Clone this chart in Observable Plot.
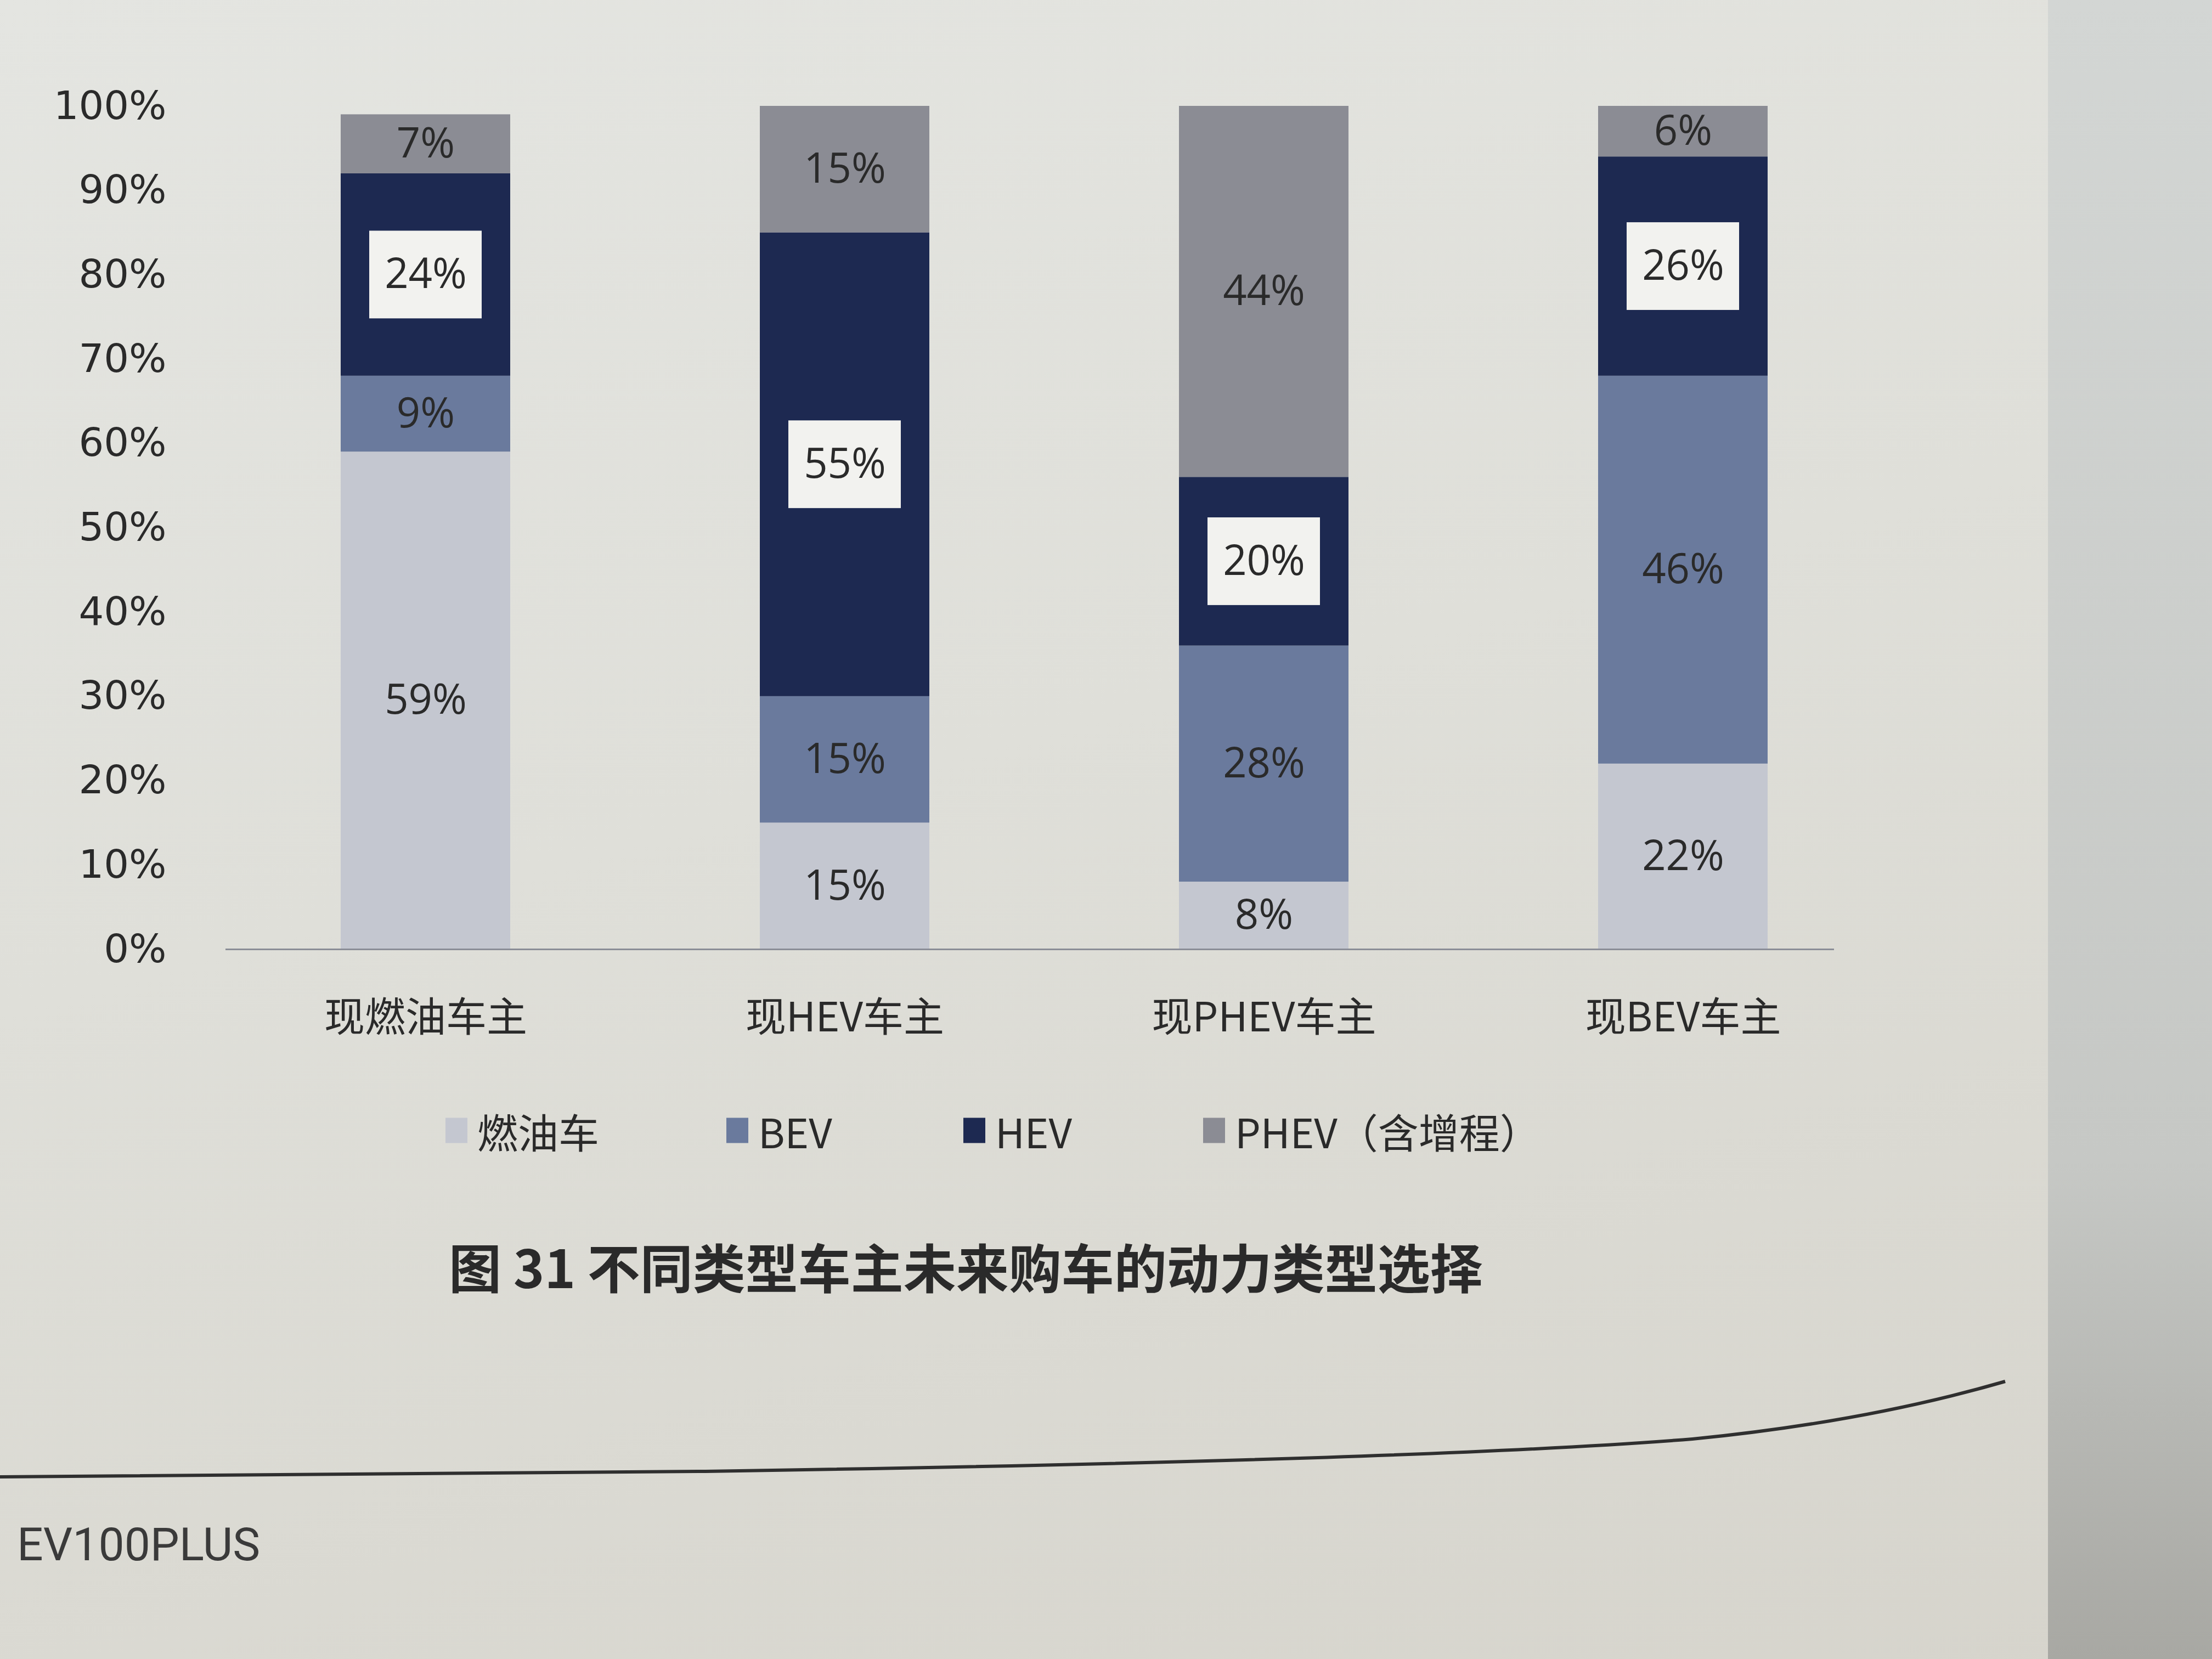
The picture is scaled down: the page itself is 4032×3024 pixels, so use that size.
<!DOCTYPE html>
<html>
<head>
<meta charset="utf-8">
<script src="https://cdn.jsdelivr.net/npm/d3@7"></script>
<script src="https://cdn.jsdelivr.net/npm/@observablehq/plot@0.6"></script>
<style>
  html, body { margin: 0; padding: 0; }
  #page {
    position: relative; width: 4032px; height: 3024px; overflow: hidden;
    background: linear-gradient(165deg, #e4e5e1 0%, #dfdfd9 45%, #d6d4cc 100%);
    font-family: "Noto Sans CJK SC", "Noto Sans", sans-serif; color: #2a2a2a;
  }
  #edge { position: absolute; left: 3733px; top: 0; width: 299px; height: 3024px;
    background: linear-gradient(180deg, #d3d6d4 0%, #c6c8c5 70%, #a8a8a3 100%); }
  #chart { position: absolute; left: 0; top: 0; }
  .legend-item { position: absolute; top: 2060px; transform: translateY(-50%);
    display: flex; align-items: center; font-size: 74px; white-space: nowrap; }
  .legend-item .sw { width: 40px; height: 46px; margin-right: 18px; }
  #title { position: absolute; left: 818px; top: 2306px; transform: translateY(-50%);
    font-size: 96px; font-weight: 700; white-space: nowrap; }
  #footer { position: absolute; left: 31px; top: 2815px; transform: translateY(-50%);
    font-family: Roboto, "Liberation Sans", sans-serif; font-size: 84px; color: #3a3a3a; }
  #deco { position: absolute; left: 0; top: 0; }
</style>
</head>
<body>
<div id="page">
  <div id="edge"></div>
  <div id="chart"></div>
  <div id="legend"></div>
  <div id="title"></div>
  <div id="footer"></div>
</div>
<script>
// ---- data ----
const owners = ["现燃油车主", "现HEV车主", "现PHEV车主", "现BEV车主"];
const types = ["燃油车", "BEV", "HEV", "PHEV（含增程）"];
const fuelShare = [59, 15, 8, 22];
const bevShare = [9, 15, 28, 46];
const hevShare = [24, 55, 20, 26];
const phevShare = [7, 15, 44, 6];
const typeColors = ["#c4c7d0", "#6a7a9d", "#1d2951", "#8b8c94"];
const yTicks = [0, 10, 20, 30, 40, 50, 60, 70, 80, 90, 100];
const titleText = "图 31 不同类型车主未来购车的动力类型选择";
const footerText = "EV100PLUS";

// ---- table ----
const series = [fuelShare, bevShare, hevShare, phevShare];
const rows = [];
owners.forEach((owner, i) => {
  let acc = 0;
  types.forEach((type, j) => {
    const v = series[j][i];
    rows.push({owner, type, value: v, y0: acc, y1: acc + v, mid: acc + v / 2});
    acc += v;
  });
});
const hevRows = rows.filter(d => d.type === "HEV");

const chart = Plot.plot({
  width: 3500,
  height: 1930,
  marginLeft: 411,
  marginRight: 157,
  marginTop: 193,
  marginBottom: 200,
  style: {background: "transparent", color: "#2a2a2a", overflow: "visible"},
  x: {domain: owners, paddingInner: 0.596, paddingOuter: 0.2153, align: 0.633, label: null},
  y: {domain: [0, 100], label: null},
  color: {domain: types, range: typeColors},
  marks: [
    Plot.barY(rows, {x: "owner", y1: "y0", y2: "y1", fill: "type"}),
    Plot.ruleY([0], {stroke: "#8b8e97", strokeWidth: 3}),
    Plot.barY(hevRows, {x: "owner", y1: d => d.mid - 5.2, y2: d => d.mid + 5.2,
      fill: "#f2f2ef", insetLeft: 52, insetRight: 52}),
    Plot.text(rows, {x: "owner", y: "mid", text: d => d.value + "%", fontSize: 76,
      fill: "#2a2a2a", fontFamily: "Open Sans, sans-serif"}),
    Plot.axisY({ticks: yTicks, tickFormat: d => d + "%", tickSize: 0, tickPadding: 108,
      fontSize: 72, fontFamily: "DejaVu Sans, sans-serif", label: null}),
    Plot.axisX({tickSize: 0, tickPadding: 97, fontSize: 74,
      fontFamily: "Noto Sans CJK SC, sans-serif", label: null})
  ]
});
document.getElementById("chart").appendChild(chart);

// ---- legend ----
const legendX = [812, 1324, 1756, 2193];
const legend = document.getElementById("legend");
types.forEach((t, i) => {
  const item = document.createElement("div");
  item.className = "legend-item";
  item.style.left = legendX[i] + "px";
  const sw = document.createElement("div");
  sw.className = "sw";
  sw.style.background = typeColors[i];
  const label = document.createElement("span");
  label.textContent = t;
  item.appendChild(sw);
  item.appendChild(label);
  legend.appendChild(item);
});
document.getElementById("title").textContent = titleText;
document.getElementById("footer").textContent = footerText;

// ---- decorative page rule ----
const ns = "http://www.w3.org/2000/svg";
const deco = document.createElementNS(ns, "svg");
deco.setAttribute("id", "deco");
deco.setAttribute("width", 4032);
deco.setAttribute("height", 3024);
const path = document.createElementNS(ns, "path");
path.setAttribute("d", "M0,2692 L1286,2682 Q2600,2662 3085,2623 Q3400,2592 3655,2518");
path.setAttribute("fill", "none");
path.setAttribute("stroke", "#2f2f2f");
path.setAttribute("stroke-width", 6);
deco.appendChild(path);
document.getElementById("page").appendChild(deco);
</script>
</body>
</html>
